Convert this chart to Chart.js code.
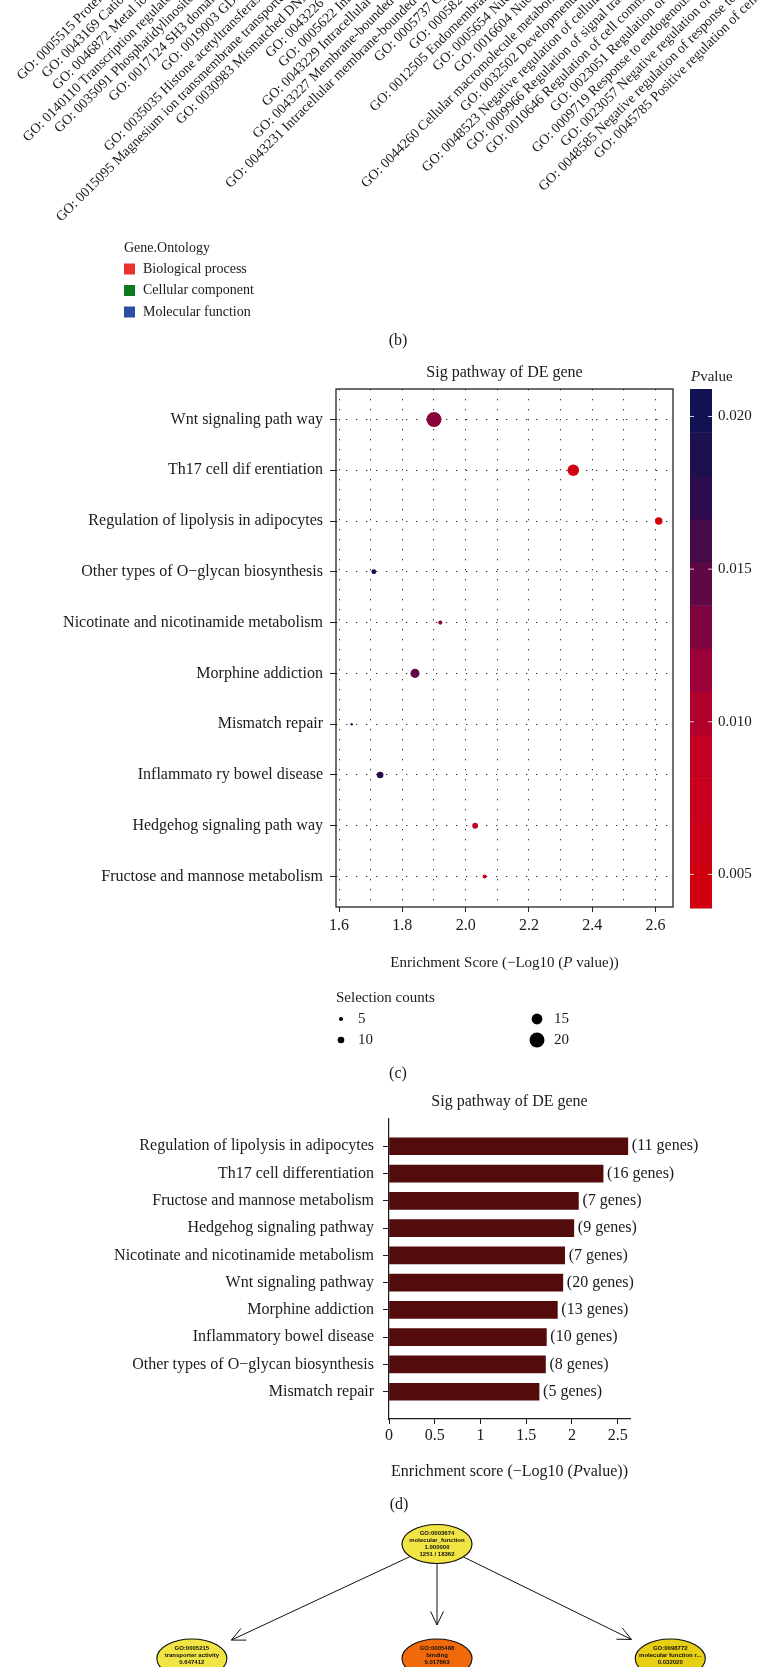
<!DOCTYPE html>
<html>
<head>
<meta charset="utf-8">
<script src="https://cdn.jsdelivr.net/npm/chart.js@4.4.1/dist/chart.umd.min.js"></script>
<style>
  html, body { margin: 0; padding: 0; background: #fff; }
  body { width: 760px; height: 1667px; position: relative; overflow: hidden; }
  canvas { position: absolute; left: 0; }
</style>
</head>
<body>
<canvas id="goTerms" width="820" height="430" style="top:-80px"></canvas>
<canvas id="bubble" width="760" height="740" style="top:350px"></canvas>
<canvas id="bars" width="760" height="425" style="top:1090px"></canvas>
<canvas id="tree" width="760" height="152" style="top:1515px"></canvas>
<script>
const SERIF = '"Liberation Serif", "Times New Roman", serif';
const INK = '#1a1a1a';

// (b) GO term axis (the bars themselves are above the crop)
const goTerms = [
    'GO: 0005515 Protein binding',
    'GO: 0043169 Cation binding',
    'GO: 0046872 Metal ion binding',
    'GO: 0140110 Transcription regulator activity',
    'GO: 0035091 Phosphatidylinositol binding',
    'GO: 0017124 SH3 domain binding',
    'GO: 0019003 GDP binding',
    'GO: 0035035 Histone acetyltransferase binding',
    'GO: 0015095 Magnesium ion transmembrane transporter activity',
    'GO: 0030983 Mismatched DNA binding',
    'GO: 0043226 Organelle',
    'GO: 0005622 Intracellular',
    'GO: 0043229 Intracellular organelle',
    'GO: 0043227 Membrane-bounded organelle',
    'GO: 0043231 Intracellular membrane-bounded organelle',
    'GO: 0005737 Cytoplasm',
    'GO: 0005829 Cytosol',
    'GO: 0012505 Endomembrane system',
    'GO: 0005654 Nucleoplasm',
    'GO: 0016604 Nuclear body',
    'GO: 0044260 Cellular macromolecule metabolic process',
    'GO: 0032502 Developmental process',
    'GO: 0048523 Negative regulation of cellular process',
    'GO: 0009966 Regulation of signal transduction',
    'GO: 0010646 Regulation of cell communication',
    'GO: 0023051 Regulation of signaling',
    'GO: 0009719 Response to endogenous stimulus',
    'GO: 0023057 Negative regulation of signaling',
    'GO: 0048585 Negative regulation of response to stimulus',
    'GO: 0045785 Positive regulation of cell adhesion'
];
const ontologyNames = ['Biological process', 'Cellular component', 'Molecular function'];
const ontologyColors = ['#e8322b', '#0b7a21', '#2b4f9e'];

// (c) bubble chart
const bubblePathways = [
    'Wnt signaling path way',
    'Th17 cell dif erentiation',
    'Regulation of lipolysis in adipocytes',
    'Other types of O\u2212glycan biosynthesis',
    'Nicotinate and nicotinamide metabolism',
    'Morphine addiction',
    'Mismatch repair',
    'Inflammato ry bowel disease',
    'Hedgehog signaling path way',
    'Fructose and mannose metabolism'
];
const bubbleScores = [1.90, 2.34, 2.61, 1.71, 1.92, 1.84, 1.64, 1.73, 2.03, 2.06];
const bubbleCounts = [20, 16, 11, 8, 7, 13, 5, 10, 9, 7];
const bubblePvalues = [0.0126, 0.0046, 0.0039, 0.0192, 0.0120, 0.0145, 0.0209, 0.0178, 0.0093, 0.0087];
const scoreTicks = [1.6, 1.8, 2.0, 2.2, 2.4, 2.6];
const scoreMinor = [1.7, 1.9, 2.1, 2.3, 2.5];
const pvalueTicks = [0.005, 0.010, 0.015, 0.020];
const countBreaks = [5, 10, 15, 20];

// (d) bar chart
const barPathways = [
    'Regulation of lipolysis in adipocytes',
    'Th17 cell differentiation',
    'Fructose and mannose metabolism',
    'Hedgehog signaling pathway',
    'Nicotinate and nicotinamide metabolism',
    'Wnt signaling pathway',
    'Morphine addiction',
    'Inflammatory bowel disease',
    'Other types of O\u2212glycan biosynthesis',
    'Mismatch repair'
];
const barScores = [2.61, 2.34, 2.07, 2.02, 1.92, 1.90, 1.84, 1.72, 1.71, 1.64];
const barGenes = [11, 16, 7, 9, 7, 20, 13, 10, 8, 5];
const barTicks = [0, 0.5, 1, 1.5, 2, 2.5];

// GO graph (cut by the bottom of the figure)
const nodeIds = ['GO:0003674', 'GO:0005215', 'GO:0005488', 'GO:0098772'];
const nodeNames = ['molecular_function', 'transporter activity', 'binding', 'molecular function r...'];
const nodeScores = ['1.000000', '0.647412', '0.017863', '0.032020'];
const nodeCounts = ['1251 / 18362', '', '', ''];
const nodeLevel = [0, 1, 1, 1];
const nodeOrder = [0, -1.03, 0, 0.98];
const nodeEdges = [[0, 1], [0, 2], [0, 3]];
const nodeFill = ['#f1e445', '#f1e445', '#f06a0c', '#e7cf14'];

// ---------- helpers ----------
const sizeMin = Math.min(...bubbleCounts), sizeMax = Math.max(...bubbleCounts);
function countRadius(n) {
    return 1.2 + (n - sizeMin) / (sizeMax - sizeMin) * 6.3;
}

const pMin = Math.min(...bubblePvalues), pMax = Math.max(...bubblePvalues);
const colorStops = [
    [0, [210, 2, 10]], [0.13, [204, 0, 24]], [0.30, [196, 0, 34]], [0.46, [156, 0, 56]],
    [0.63, [92, 8, 69]], [0.79, [44, 12, 76]], [1, [10, 20, 84]]
];
function tColor(t) {
    t = Math.min(1, Math.max(0, t));
    for (let i = 1; i < colorStops.length; i++) {
        if (t <= colorStops[i][0]) {
            const [t0, c0] = colorStops[i - 1], [t1, c1] = colorStops[i];
            const f = (t - t0) / (t1 - t0);
            return 'rgb(' + c0.map((c, k) => Math.round(c + (c1[k] - c) * f)).join(',') + ')';
        }
    }
}
function pColor(p) {
    return tColor((p - pMin) / (pMax - pMin));
}

function richText(ctx, parts, x, y, size, align) {
    const fonts = parts.map(p => (p[1] ? 'italic ' : '') + size + 'px ' + SERIF);
    const widths = parts.map((p, i) => { ctx.font = fonts[i]; return ctx.measureText(p[0]).width; });
    const total = widths.reduce((a, b) => a + b, 0);
    let cx = align === 'center' ? x - total / 2 : x;
    ctx.textAlign = 'left';
    ctx.textBaseline = 'middle';
    ctx.fillStyle = INK;
    parts.forEach((p, i) => {
        ctx.font = fonts[i];
        ctx.fillText(p[0], cx, y);
        cx += widths[i];
    });
}

const noPlugins = { legend: { display: false }, tooltip: { enabled: false } };

// ---------- (b) ----------
const goLabelPlugin = {
    id: 'goLabels',
    afterDraw(chart) {
        const ctx = chart.ctx;
        const xs = chart.scales.x;
        const y0 = chart.chartArea.bottom + 6;
        ctx.save();
        ctx.font = '14px ' + SERIF;
        ctx.fillStyle = INK;
        ctx.textAlign = 'right';
        ctx.textBaseline = 'middle';
        goTerms.forEach((t, i) => {
            ctx.save();
            ctx.translate(xs.getPixelForValue(i), y0);
            ctx.rotate(-Math.PI / 4);
            ctx.fillText(t, 0, 0);
            ctx.restore();
        });

        // Gene.Ontology legend
        ctx.font = '14px ' + SERIF;
        ctx.textAlign = 'left';
        ctx.fillText('Gene.Ontology', 124, 328);
        ontologyNames.forEach((name, i) => {
            const cy = 349 + i * 21.5;
            ctx.fillStyle = ontologyColors[i];
            ctx.fillRect(124, cy - 5.5, 11, 11);
            ctx.fillStyle = INK;
            ctx.fillText(name, 143, cy);
        });
        ctx.font = '16px ' + SERIF;
        ctx.textAlign = 'center';
        ctx.fillText('(b)', 398, 421);
        ctx.restore();
    }
};

new Chart(document.getElementById('goTerms'), {
    type: 'bar',
    data: { labels: goTerms, datasets: [{ data: [] }] },
    options: {
        responsive: false,
        animation: false,
        layout: { padding: { left: 126, right: 16, top: 0, bottom: 0 } },
        plugins: noPlugins,
        scales: {
            x: {
                offset: true,
                grid: { display: false },
                border: { display: false },
                ticks: { display: false },
                afterFit: s => { s.height = 396; }
            },
            y: { display: false }
        }
    },
    plugins: [goLabelPlugin]
});

// ---------- (c) ----------
const isMajor = v => scoreTicks.some(t => Math.abs(t - v) < 1e-6);

const bubbleDecor = {
    id: 'bubbleDecor',
    afterDraw(chart) {
        const ctx = chart.ctx;
        const a = chart.chartArea;
        ctx.save();
        ctx.strokeStyle = '#222';
        ctx.lineWidth = 1.3;
        ctx.strokeRect(a.left, a.top, a.right - a.left, a.bottom - a.top);

        ctx.fillStyle = INK;
        ctx.font = '16px ' + SERIF;
        ctx.textAlign = 'center';
        ctx.textBaseline = 'middle';
        ctx.fillText('Sig pathway of DE gene', (a.left + a.right) / 2, 23);

        // colour bar
        const bx = 690, bw = 22, bTop = a.top, bBot = a.bottom + 1;
        const bands = 12, bh = (bBot - bTop) / bands;
        for (let k = 0; k < bands; k++) {
            ctx.fillStyle = tColor((k + 0.5) / bands);
            ctx.fillRect(bx, bBot - (k + 1) * bh, bw, bh + 0.5);
        }
        ctx.strokeStyle = 'rgba(255,255,255,0.8)';
        ctx.lineWidth = 1;
        ctx.font = '15px ' + SERIF;
        ctx.textAlign = 'left';
        pvalueTicks.forEach(p => {
            const y = bBot - (p - pMin) / (pMax - pMin) * (bBot - bTop);
            ctx.beginPath();
            ctx.moveTo(bx, y); ctx.lineTo(bx + 4, y);
            ctx.moveTo(bx + bw - 4, y); ctx.lineTo(bx + bw, y);
            ctx.stroke();
            ctx.fillStyle = INK;
            ctx.fillText(p.toFixed(3), 718, y);
        });
        richText(ctx, [['P', true], ['value', false]], 691, 27, 15, 'left');

        // x axis title
        richText(ctx, [['Enrichment Score (\u2212Log10 (', false], ['P', true], [' value))', false]],
            (a.left + a.right) / 2, 613, 15, 'center');

        // size legend
        ctx.font = '15px ' + SERIF;
        ctx.fillStyle = INK;
        ctx.textAlign = 'left';
        ctx.fillText('Selection counts', 336, 648);
        countBreaks.forEach((n, i) => {
            const cx = i < 2 ? 341 : 537;
            const cy = 669 + (i % 2) * 21;
            ctx.fillStyle = '#000';
            ctx.beginPath();
            ctx.arc(cx, cy, Math.max(2, countRadius(n)), 0, Math.PI * 2);
            ctx.fill();
            ctx.fillStyle = INK;
            ctx.fillText(String(n), cx + 17, cy);
        });
        ctx.font = '16px ' + SERIF;
        ctx.textAlign = 'center';
        ctx.fillText('(c)', 398, 724);
        ctx.restore();
    }
};

new Chart(document.getElementById('bubble'), {
    type: 'bubble',
    data: {
        datasets: [{
            data: bubbleScores.map((s, i) => ({ x: s, y: i, r: countRadius(bubbleCounts[i]) })),
            backgroundColor: bubblePvalues.map(pColor),
            borderWidth: 0,
            hoverRadius: 0
        }]
    },
    options: {
        responsive: false,
        animation: false,
        layout: { padding: { top: 39, right: 87, left: 0, bottom: 0 } },
        plugins: noPlugins,
        scales: {
            x: {
                type: 'linear',
                min: 1.5905,
                max: 2.655,
                afterBuildTicks: s => {
                    s.ticks = scoreTicks.concat(scoreMinor).sort((p, q) => p - q).map(v => ({ value: v }));
                },
                afterFit: s => { s.height = 183; },
                ticks: {
                    autoSkip: false, maxRotation: 0, padding: 4, color: INK,
                    font: { family: SERIF, size: 16 },
                    callback: v => isMajor(v) ? v.toFixed(1) : ''
                },
                grid: {
                    color: '#333', lineWidth: 1, tickLength: 5, tickBorderDash: [],
                    tickColor: c => (c.tick && isMajor(c.tick.value)) ? '#222' : 'rgba(0,0,0,0)'
                },
                border: { display: false, dash: [1.3, 8.7] }
            },
            y: {
                type: 'linear',
                reverse: true,
                min: -0.6,
                max: bubblePathways.length - 0.4,
                afterBuildTicks: s => { s.ticks = bubblePathways.map((_, i) => ({ value: i })); },
                afterFit: s => { s.width = 336; },
                ticks: {
                    autoSkip: false, padding: 7, color: INK,
                    font: { family: SERIF, size: 16 },
                    callback: v => bubblePathways[v]
                },
                grid: { color: '#333', lineWidth: 1, tickLength: 6, tickBorderDash: [], tickColor: '#222' },
                border: { display: false, dash: [1.3, 8.7] }
            }
        }
    },
    plugins: [bubbleDecor]
});

// ---------- (d) ----------
const barDecor = {
    id: 'barDecor',
    afterDraw(chart) {
        const ctx = chart.ctx;
        const a = chart.chartArea;
        const meta = chart.getDatasetMeta(0);
        ctx.save();
        ctx.fillStyle = INK;
        ctx.font = '16px ' + SERIF;
        ctx.textAlign = 'left';
        ctx.textBaseline = 'middle';
        meta.data.forEach((bar, i) => {
            ctx.fillText('(' + barGenes[i] + ' genes)', bar.x + 4, bar.y);
        });
        ctx.textAlign = 'center';
        ctx.fillText('Sig pathway of DE gene', (a.left + a.right) / 2, 12);
        richText(ctx, [['Enrichment score (\u2212Log10 (', false], ['P', true], ['value))', false]],
            (a.left + a.right) / 2, 382, 16, 'center');
        ctx.font = '16px ' + SERIF;
        ctx.textAlign = 'center';
        ctx.fillText('(d)', 399, 415);
        ctx.restore();
    }
};

new Chart(document.getElementById('bars'), {
    type: 'bar',
    data: {
        datasets: [{
            data: barScores.map((v, i) => ({ x: v, y: i })),
            backgroundColor: '#530b0b',
            borderWidth: 0,
            barThickness: 17
        }]
    },
    options: {
        indexAxis: 'y',
        responsive: false,
        animation: false,
        layout: { padding: { top: 29, right: 130, left: 0, bottom: 0 } },
        plugins: noPlugins,
        scales: {
            x: {
                type: 'linear',
                min: 0,
                max: 2.634,
                afterBuildTicks: s => { s.ticks = barTicks.map(v => ({ value: v })); },
                afterFit: s => { s.height = 96; },
                ticks: {
                    autoSkip: false, maxRotation: 0, padding: 2, color: INK,
                    font: { family: SERIF, size: 16 },
                    callback: v => String(v)
                },
                grid: { drawOnChartArea: false, tickLength: 5, color: INK },
                border: { display: true, color: INK, width: 1.2 }
            },
            y: {
                type: 'linear',
                reverse: true,
                offset: false,
                min: -1,
                max: barPathways.length,
                afterBuildTicks: s => { s.ticks = barPathways.map((_, i) => ({ value: i })); },
                afterFit: s => { s.width = 389; },
                ticks: {
                    autoSkip: false, padding: 9, color: INK,
                    font: { family: SERIF, size: 16 },
                    callback: v => barPathways[v]
                },
                grid: { offset: false, drawOnChartArea: false, tickLength: 6, color: INK },
                border: { display: true, color: INK, width: 1.2 }
            }
        }
    },
    plugins: [barDecor]
});

// ---------- GO graph ----------
const RX = 35, RY = 19.5;
function rim(dx, dy) {
    return 1 / Math.sqrt((dx / RX) * (dx / RX) + (dy / RY) * (dy / RY));
}

const treeDraw = {
    id: 'treeDraw',
    afterDatasetsDraw(chart) {
        const ctx = chart.ctx;
        const pts = chart.getDatasetMeta(0).data.map(p => ({ x: p.x, y: p.y }));
        ctx.save();
        ctx.strokeStyle = '#111';
        ctx.lineWidth = 1;
        nodeEdges.forEach(([from, to]) => {
            const a = pts[from], b = pts[to];
            const len = Math.hypot(b.x - a.x, b.y - a.y);
            const dx = (b.x - a.x) / len, dy = (b.y - a.y) / len;
            const t = rim(dx, dy);
            const sx = a.x + dx * t, sy = a.y + dy * t;
            const ex = b.x - dx * (t + 14), ey = b.y - dy * (t + 14);
            ctx.beginPath();
            ctx.moveTo(sx, sy);
            ctx.lineTo(ex, ey);
            const ang = Math.atan2(dy, dx);
            [0.44, -0.44].forEach(o => {
                ctx.moveTo(ex, ey);
                ctx.lineTo(ex - 15 * Math.cos(ang + o), ey - 15 * Math.sin(ang + o));
            });
            ctx.stroke();
        });

        pts.forEach((p, i) => {
            ctx.beginPath();
            ctx.ellipse(p.x, p.y, RX, RY, 0, 0, Math.PI * 2);
            ctx.fillStyle = nodeFill[i];
            ctx.fill();
            ctx.lineWidth = 1.2;
            ctx.strokeStyle = '#111';
            ctx.stroke();
            ctx.fillStyle = '#111';
            ctx.font = 'bold 6px "Liberation Sans", Arial, sans-serif';
            ctx.textAlign = 'center';
            ctx.textBaseline = 'middle';
            [nodeIds[i], nodeNames[i], nodeScores[i], nodeCounts[i]].forEach((line, k) => {
                if (line) ctx.fillText(line, p.x, p.y - 10.5 + k * 7);
            });
        });
        ctx.restore();
    }
};

new Chart(document.getElementById('tree'), {
    type: 'scatter',
    data: {
        datasets: [{
            data: nodeOrder.map((x, i) => ({ x: x, y: nodeLevel[i] })),
            pointRadius: 0,
            pointHoverRadius: 0
        }]
    },
    options: {
        responsive: false,
        animation: false,
        layout: { padding: 0 },
        plugins: noPlugins,
        scales: {
            x: { display: false, min: -1.836, max: 1.357 },
            y: { display: false, reverse: true, min: -0.253, max: 1.074 }
        }
    },
    plugins: [treeDraw]
});
</script>
</body>
</html>
